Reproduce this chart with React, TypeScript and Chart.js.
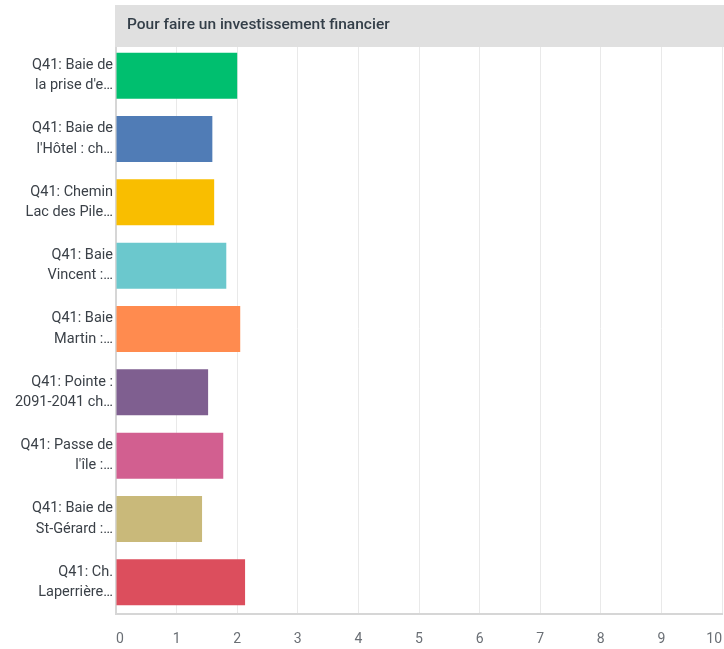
import React, { useEffect, useRef } from "react";
import { Chart, registerables } from "chart.js";

Chart.register(...registerables);

const TITLE = "Pour faire un investissement financier";
const categories: string[][] = [
  ["Q41: Baie de", "la prise d'e…"],
  ["Q41: Baie de", "l'Hôtel : ch…"],
  ["Q41: Chemin", "Lac des Pile…"],
  ["Q41: Baie", "Vincent :…"],
  ["Q41: Baie", "Martin :…"],
  ["Q41: Pointe :", "2091-2041 ch…"],
  ["Q41: Passe de", "l'île :…"],
  ["Q41: Baie de", "St-Gérard :…"],
  ["Q41: Ch.", "Laperrière…"],
];
const values: number[] = [2.0, 1.59, 1.62, 1.82, 2.05, 1.52, 1.77, 1.42, 2.13];
const barColors: string[] = [
  "#00bf6f",
  "#507cb6",
  "#f9be00",
  "#6bc8cd",
  "#ff8b4f",
  "#7f5f90",
  "#d25f90",
  "#c9b97a",
  "#dc4e5d",
];
const xMin = 0;
const xMax = 10;

const FONT = "Roboto, 'Open Sans', sans-serif";

const headerPlugin = {
  id: "headerBar",
  beforeDatasetsDraw(chart: any) {
    const { ctx, chartArea, width } = chart;
    ctx.save();
    ctx.fillStyle = "#e0e0e0";
    ctx.fillRect(chartArea.left - 1, 5, width - chartArea.left + 1, 42);
    ctx.fillStyle = "#333e48";
    ctx.font = `500 15.5px ${FONT}`;
    ctx.textBaseline = "middle";
    ctx.textAlign = "left";
    ctx.fillText(TITLE, chartArea.left + 11, 25);
    ctx.restore();
  },
};

export default function App() {
  const ref = useRef<HTMLCanvasElement | null>(null);
  useEffect(() => {
    document.body.style.margin = "0";
    if (!ref.current) return;
    const chart = new Chart(ref.current, {
      type: "bar",
      data: {
        labels: categories,
        datasets: [
          {
            data: values,
            backgroundColor: barColors,
            borderWidth: 0,
            categoryPercentage: 1,
            barPercentage: 0.726,
          },
        ],
      },
      plugins: [headerPlugin],
      options: {
        indexAxis: "y",
        animation: false,
        responsive: false,
        maintainAspectRatio: false,
        layout: { autoPadding: false, padding: { top: 44, right: 2, left: 0, bottom: 0 } },
        plugins: {
          legend: { display: false },
          tooltip: { enabled: false },
          title: { display: false },
        },
        scales: {
          x: {
            min: xMin,
            max: xMax,
            ticks: {
              stepSize: 1,
              color: "#6a6f75",
              font: { family: FONT, size: 14 },
              padding: 17,
              align: "inner",
              maxRotation: 0,
            },
            grid: { color: "#e9e9e9", lineWidth: 1, drawTicks: false },
            border: { display: true, color: "#d6d6d6", width: 2 },
            afterFit: (scale: any) => {
              scale.height = 35;
              scale.paddingLeft = 0;
              scale.paddingRight = 0;
            },
          },
          y: {
            ticks: {
              color: "#3b4148",
              font: { family: FONT, size: 14.5, lineHeight: 1.4 },
              padding: 3,
              autoSkip: false,
            },
            grid: { display: false, drawTicks: false },
            border: { display: true, color: "#d6d6d6", width: 2 },
            afterFit: (scale: any) => {
              scale.width = 116;
              scale.paddingTop = 0;
              scale.paddingBottom = 0;
            },
          },
        },
      },
    });
    return () => chart.destroy();
  }, []);
  return (
    <div style={{ width: 724, height: 649 }}>
      <canvas ref={ref} width={724} height={649} style={{ display: "block" }} />
    </div>
  );
}
